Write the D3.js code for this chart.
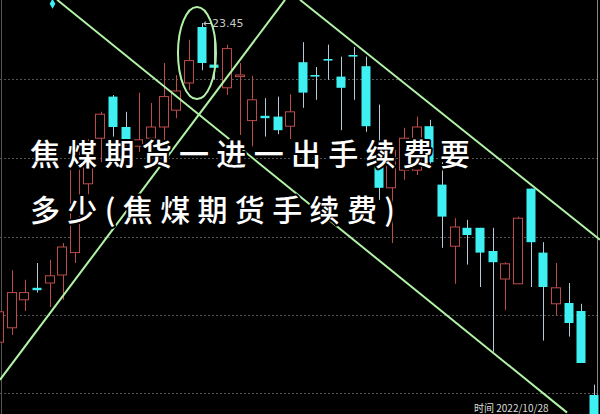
<!DOCTYPE html>
<html>
<head>
<meta charset="utf-8">
<script src="https://cdn.jsdelivr.net/npm/d3@7/dist/d3.min.js"></script>
<style>
html,body{margin:0;padding:0;background:#000;}
svg{display:block;}
</style>
</head>
<body>
<svg id="chart" width="600" height="414"></svg>
<script>
// ---- data (index -1 is the partially visible candle at the left edge) ----
const candleIndex = d3.range(-1, 47);
const opens  = [19.46,19.64,19.99,20.14,20.20,20.30,20.58,21.44,22.01,22.53,22.15,21.91,22.01,22.15,22.36,22.70,23.40,22.93,22.64,22.78,22.23,22.29,22.28,22.16,22.96,22.80,23.00,22.78,23.05,22.91,21.74,21.39,21.61,21.61,22.16,21.43,20.66,20.89,20.89,20.60,20.25,20.19,21.38,20.58,19.94,19.95,19.85,18.80];
const closes = [19.84,20.08,20.08,20.11,20.29,20.65,21.89,21.83,22.31,22.15,22.00,21.99,22.15,22.53,22.60,22.98,22.95,22.89,23.13,22.80,22.49,22.26,22.11,22.34,22.58,22.78,22.98,22.64,23.03,22.16,21.39,21.86,22.01,22.15,21.71,21.03,20.90,20.80,20.58,20.46,20.44,21.01,20.71,20.15,20.14,19.70,19.20,18.49];
const highs  = [19.93,20.36,20.24,20.45,20.49,20.70,21.94,22.00,22.34,22.55,22.34,22.58,22.45,22.95,22.80,23.24,23.45,23.28,23.18,22.95,22.79,22.51,22.53,22.56,23.21,22.90,23.18,23.03,23.15,23.03,22.43,21.94,22.14,22.28,22.24,21.71,21.01,20.99,20.89,20.89,20.46,21.03,21.38,20.71,20.45,20.20,19.94,18.93];
const lows   = [19.36,19.55,19.85,20.08,19.90,19.99,20.45,21.31,21.71,22.03,21.86,21.84,21.78,21.93,22.26,22.61,22.86,22.74,22.55,22.05,21.91,22.03,22.06,22.00,22.39,22.49,22.74,22.11,22.49,22.09,21.24,20.70,21.49,21.55,21.64,20.64,20.19,20.43,20.15,19.34,19.86,20.19,20.15,19.48,19.80,19.53,19.20,18.49];
const gridPrices = [22.75, 21.76, 20.78, 19.80, 18.83];
// trendlines, in [candle index, price]
const trendLines = [
  [[3.56, 23.74], [43.87, 18.58]],
  [[22.76, 23.74], [46.47, 20.74]],
  [[-0.95, 18.99], [21.58, 23.74]]
];
// highlighted region (ellipse) in [index range], [price range]
const circledIdx = [13.12, 16.12];
const circledPrice = [22.50, 23.65];
const markerPoint = [3.2, 23.69];
const titleLines = ["焦煤期货一进一出手续费要", "多少(焦煤期货手续费)"];
const footerText = "时间 2022/10/28";

const W = 600, H = 414;
const svg = d3.select("#chart");
svg.append("rect").attr("width", W).attr("height", H).attr("fill", "#000");

const x = d3.scaleLinear().domain([-1, 46]).range([-0.65, 594]);
const y = d3.scaleLinear().domain([18.5625, 23.7375]).range([H, 0]);
const step = x(1) - x(0);
const bw = step * 0.82;

const candles = candleIndex.map((d, k) => ({i: d, o: opens[k], c: closes[k], h: highs[k], l: lows[k]}));

// grid
svg.append("g").selectAll("line").data(gridPrices).join("line")
  .attr("x1", 0).attr("x2", W)
  .attr("y1", d => Math.round(y(d)) + 0.5).attr("y2", d => Math.round(y(d)) + 0.5)
  .attr("stroke", "#555").attr("stroke-width", 1).attr("stroke-dasharray", "2,2");

// borders
svg.append("line").attr("x1", 1.5).attr("x2", 1.5).attr("y1", 0).attr("y2", H).attr("stroke", "#555");
svg.append("line").attr("x1", 597.5).attr("x2", 597.5).attr("y1", 0).attr("y2", H).attr("stroke", "#888");

const UP = "#bd4b4b", DOWN = "#3ff0f2", DOWNWICK = "#b8c8d4";
const g = svg.append("g");
const cg = g.selectAll("g.c").data(candles).join("g").attr("class", "c");
cg.append("line")
  .attr("x1", d => Math.round(x(d.i)) + 0.5).attr("x2", d => Math.round(x(d.i)) + 0.5)
  .attr("y1", d => y(d.h)).attr("y2", d => y(d.l))
  .attr("stroke", d => d.c >= d.o ? UP : DOWNWICK).attr("stroke-width", 1);
cg.append("rect")
  .attr("x", d => Math.round(x(d.i) - bw / 2) + 0.5)
  .attr("width", Math.round(bw) - 1)
  .attr("y", d => y(Math.max(d.o, d.c)))
  .attr("height", d => Math.max(1.5, Math.abs(y(d.o) - y(d.c))))
  .attr("fill", d => d.c >= d.o ? "#000" : DOWN)
  .attr("stroke", d => d.c >= d.o ? UP : "none")
  .attr("stroke-width", 1);

// max label
const maxK = d3.maxIndex(highs);
svg.append("text")
  .attr("x", x(candleIndex[maxK]) + 1).attr("y", y(highs[maxK]) + 4)
  .attr("fill", "#c8c8c8").attr("font-family", "DejaVu Sans, sans-serif").attr("font-size", 11)
  .text("←" + highs[maxK].toFixed(2));

// marker
svg.append("path")
  .attr("d", d3.symbol(d3.symbolDiamond, 28)())
  .attr("transform", `translate(${x(markerPoint[0])},${y(markerPoint[1])})`)
  .attr("fill", DOWN);

// trendlines
const GREEN = "#b2f2a6";
svg.append("g").selectAll("line").data(trendLines).join("line")
  .attr("x1", d => x(d[0][0])).attr("y1", d => y(d[0][1]))
  .attr("x2", d => x(d[1][0])).attr("y2", d => y(d[1][1]))
  .attr("stroke", GREEN).attr("stroke-width", 2);

svg.append("ellipse")
  .attr("cx", (x(circledIdx[0]) + x(circledIdx[1])) / 2)
  .attr("cy", (y(circledPrice[0]) + y(circledPrice[1])) / 2)
  .attr("rx", Math.abs(x(circledIdx[1]) - x(circledIdx[0])) / 2)
  .attr("ry", Math.abs(y(circledPrice[0]) - y(circledPrice[1])) / 2)
  .attr("fill", "none").attr("stroke", GREEN).attr("stroke-width", 2);

// title overlay
const tl = [{t: titleLines[0], x: 30, y: 165, len: 440}, {t: titleLines[1], x: 30, y: 221, len: 365}];
svg.append("g").selectAll("text").data(tl).join("text")
  .attr("x", d => d.x).attr("y", d => d.y)
  .attr("textLength", d => d.len).attr("lengthAdjust", "spacing")
  .attr("font-family", "'Noto Sans CJK SC', sans-serif").attr("font-size", 30).attr("font-weight", 500)
  .attr("fill", "#fff").attr("stroke", "#000").attr("stroke-width", 4)
  .attr("paint-order", "stroke").attr("stroke-linejoin", "round")
  .text(d => d.t);

// footer
svg.append("text").attr("x", 474).attr("y", 412)
  .attr("font-family", "'Noto Sans CJK SC', sans-serif").attr("font-size", 10)
  .attr("fill", "#ddd").text(footerText);
</script>
</body>
</html>
